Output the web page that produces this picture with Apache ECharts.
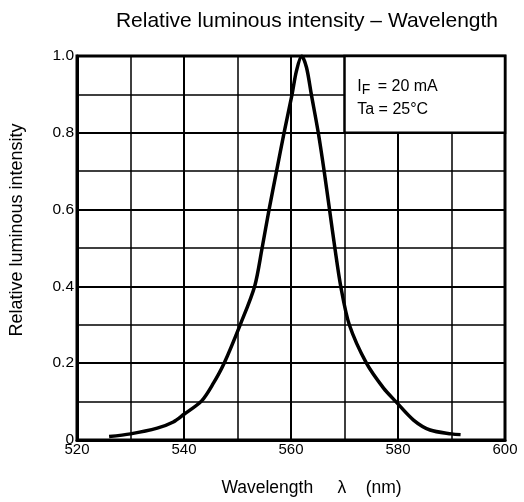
<!DOCTYPE html>
<html>
<head>
<meta charset="utf-8">
<script src="https://cdn.jsdelivr.net/npm/echarts@6/dist/echarts.min.js"></script>
<style>html,body{margin:0;padding:0;background:#fff}#c{width:524px;height:502px}</style>
</head>
<body>
<div id="c"></div>
<script>
var wavelengths = [526.0, 530.0, 535.0, 538.0, 540.0, 543.3, 545.5, 547.5, 550.5, 553.2, 554.6, 555.9, 557.3, 558.7, 560.2, 561.0, 562.0, 562.9, 563.8, 565.1, 566.2, 567.2, 568.2, 569.3, 570.9, 574.1, 577.3, 579.6, 582.9, 586.0, 590.0, 591.7];
var intensity =   [0.009, 0.016, 0.031, 0.047, 0.067, 0.102, 0.148, 0.200, 0.300, 0.400, 0.500, 0.600, 0.700, 0.800, 0.900, 0.960, 1.000, 0.970, 0.900, 0.800, 0.700, 0.600, 0.500, 0.400, 0.300, 0.200, 0.135, 0.100, 0.052, 0.026, 0.016, 0.014];
var xTicks = [520, 540, 560, 580, 600];
var yTicks = [0, 0.2, 0.4, 0.6, 0.8, 1.0];
var titleText = 'Relative luminous intensity \u2013 Wavelength';
var xName = 'Wavelength\u00a0\u00a0\u00a0\u00a0\u00a0\u03bb\u00a0\u00a0\u00a0\u00a0(nm)';
var yName = 'Relative luminous intensity';
var condBox = [[570, 0.8], [600, 1.0]];

var FONT = '"Liberation Sans", Arial, sans-serif';
var chart = echarts.init(document.getElementById('c'));
var pts = wavelengths.map(function (w, i) { return [w, intensity[i]]; });
chart.setOption({
  animation: false,
  backgroundColor: '#fff',
  title: {
    text: titleText, right: 21, top: 6,
    textStyle: { fontFamily: FONT, fontSize: 21, fontWeight: 'normal', color: '#000' }
  },
  grid: { left: 77, right: 19, top: 56, bottom: 62, show: true, borderColor: '#000', borderWidth: 3, backgroundColor: 'transparent' },
  xAxis: {
    type: 'value', min: xTicks[0], max: xTicks[xTicks.length - 1], interval: 20,
    name: xName, nameLocation: 'middle', nameGap: 39,
    nameTextStyle: { fontFamily: FONT, fontSize: 17.5, color: '#000', padding: [0, 0, 0, 41] },
    axisLine: { show: true, lineStyle: { color: '#000', width: 3 } },
    axisTick: { show: false },
    axisLabel: { fontFamily: FONT, fontSize: 15, color: '#000', margin: 2 },
    splitLine: { show: true, lineStyle: { color: '#000', width: 2 } },
    minorTick: { show: false, splitNumber: 2 },
    minorSplitLine: { show: true, lineStyle: { color: '#000', width: 1.5 } }
  },
  yAxis: {
    type: 'value', min: 0, max: 1, interval: 0.2,
    axisLine: { show: true, lineStyle: { color: '#000', width: 3 } },
    axisTick: { show: false },
    axisLabel: { fontFamily: FONT, fontSize: 15.5, color: '#000', margin: 3,
      formatter: function (v) { return v === 0 ? '0' : v.toFixed(1); } },
    splitLine: { show: true, lineStyle: { color: '#000', width: 2 } },
    minorTick: { show: false, splitNumber: 2 },
    minorSplitLine: { show: true, lineStyle: { color: '#000', width: 1.5 } }
  },
  graphic: [{
    type: 'text', x: 17, y: 230, rotation: Math.PI / 2,
    style: { text: yName, fontFamily: FONT, fontSize: 18, fill: '#000', align: 'center', verticalAlign: 'middle' }
  }],
  series: [{
    type: 'line', data: pts, smooth: 0.3, showSymbol: false,
    lineStyle: { color: '#000', width: 3.5 },
    markArea: {
      silent: true,
      itemStyle: { color: '#fff', borderColor: '#000', borderWidth: 2.5, opacity: 1 },
      label: {
        show: true, position: [14, 20],
        formatter: '{a|I}{s|F}{a| = 20 mA}\n{a|Ta = 25\u00b0C}',
        rich: {
          a: { fontFamily: FONT, fontSize: 16, color: '#000', lineHeight: 23 },
          s: { fontFamily: FONT, fontSize: 14, color: '#000', lineHeight: 23, padding: [8, 3, 0, 0] }
        }
      },
      data: [[{ coord: condBox[0] }, { coord: condBox[1] }]]
    }
  }]
});
</script>
</body>
</html>
